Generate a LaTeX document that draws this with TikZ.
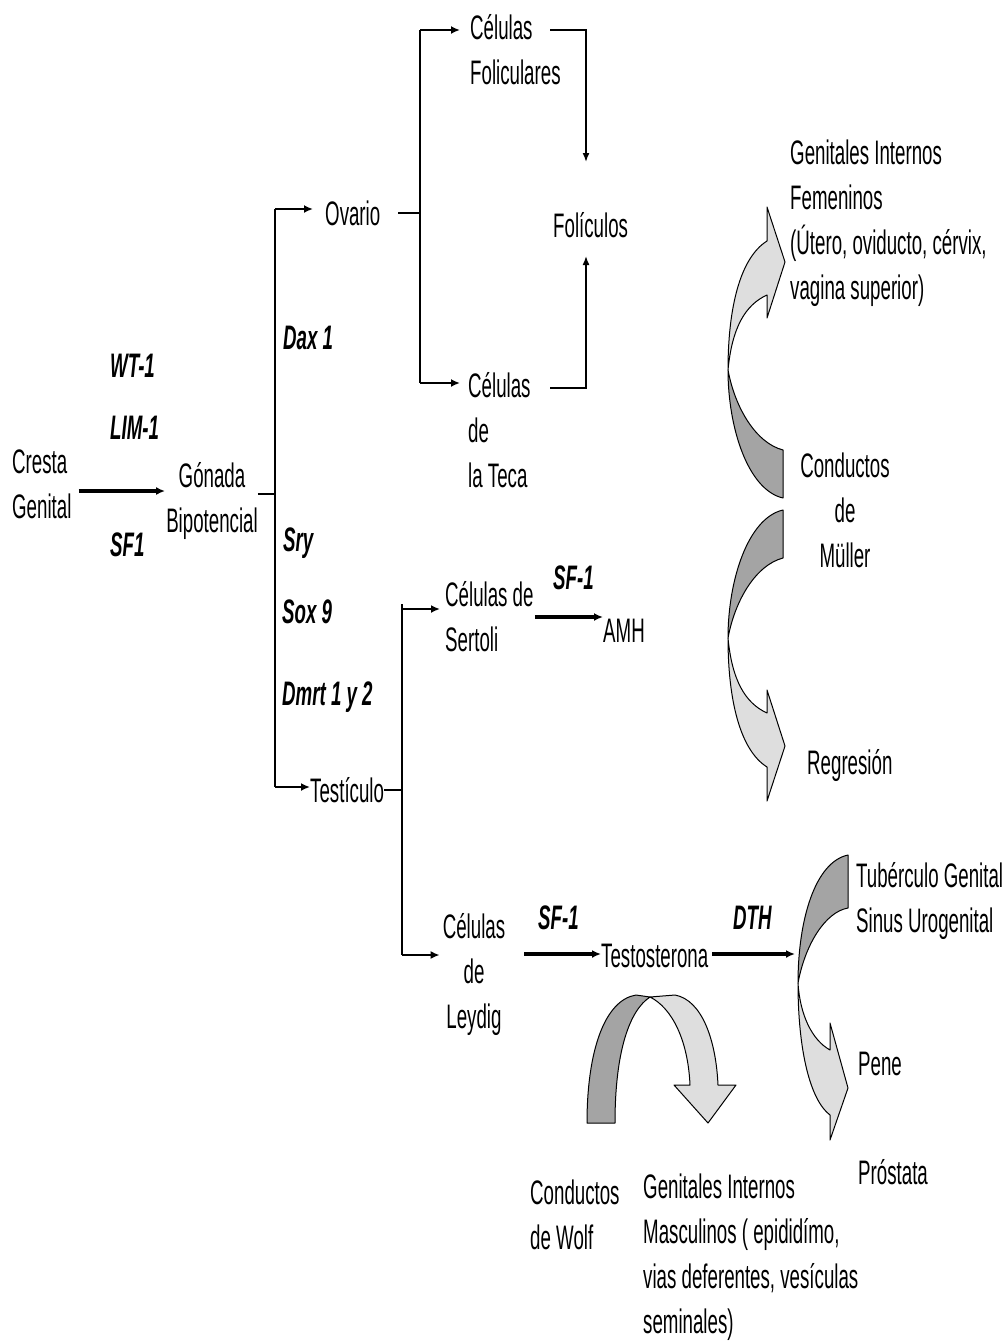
\documentclass[tikz,border=0pt]{standalone}
\usepackage{fontspec}
\setmainfont{Liberation Sans}[FakeStretch=0.55]
\usetikzlibrary{arrows.meta}
\definecolor{darkband}{HTML}{A4A4A4}
\definecolor{lightband}{HTML}{DEDEDE}
\begin{document}
\begin{tikzpicture}[x=1pt,y=-1pt,
  txt/.style={inner sep=0pt, font=\fontsize{34}{45}\selectfont, align=left, anchor=west},
  ctxt/.style={txt, align=center, anchor=center},
  gene/.style={inner sep=0pt, font=\fontsize{34}{45}\selectfont\bfseries\itshape, anchor=west},
  ln/.style={line width=1.6pt},
  arr/.style={line width=2.6pt, -{Latex[length=9pt,width=8pt]}},
  thk/.style={line width=3.2pt, -{Latex[length=9pt,width=8pt]}},
  thn/.style={line width=1.6pt, -{Latex[length=9pt,width=7pt]}},
  darkpart/.style={fill=darkband, draw=black, line width=1pt, line join=round},
  lightpart/.style={fill=lightband, draw=black, line width=1pt, line join=round}
]
\useasboundingbox (0,0) rectangle (1006,1344);
\fill[white] (0,0) rectangle (1006,1344);

% ---------- text nodes ----------
\node[txt] (cresta) at (12,487) {\strut Cresta\\\strut Genital};
\node[ctxt] (gonada) at (212,501) {\strut Gónada\\\strut Bipotencial};
\node[gene] (wt) at (110,366) {WT-1};
\node[gene] (lim) at (110,428) {LIM-1};
\node[gene] (sf) at (110,545) {SF1};
\node[txt] (ovario) at (325,216) {\strut Ovario};
\node[gene] (dax) at (283,338) {Dax 1};
\node[gene] (sry) at (283,543) {Sry};
\node[gene] (sox) at (282,612) {Sox 9};
\node[gene] (dmrt) at (282,697) {Dmrt 1 y 2};
\node[txt] (testiculo) at (310,793) {\strut Testículo};
\node[txt] (celfol) at (470,53) {\strut Células\\\strut Foliculares};
\node[txt] (celteca) at (468,433) {\strut Células\\\strut de\\\strut la Teca};
\node[txt] (foliculos) at (553,228) {\strut Folículos};
\node[txt] (sertoli) at (445,620) {\strut Células de\\\strut Sertoli};
\node[gene] (sfa) at (553,578) {SF-1};
\node[txt] (amh) at (603,633) {\strut AMH};
\node[ctxt] (leydig) at (474,974) {\strut Células\\\strut de\\\strut Leydig};
\node[gene] (sfb) at (538,918) {SF-1};
\node[txt] (testo) at (601,958) {\strut Testosterona};
\node[gene] (dth) at (733,918) {DTH};
\node[txt] (genfem) at (790,223) {\strut Genitales Internos\\\strut Femeninos\\\strut (Útero, oviducto, cérvix,\\\strut vagina superior)};
\node[ctxt] (muller) at (845,513) {\strut Conductos\\\strut de\\\strut Müller};
\node[txt] (regresion) at (807,765) {\strut Regresión};
\node[txt] (tuberculo) at (856,901) {\strut Tubérculo Genital\\\strut Sinus Urogenital};
\node[txt] (pene) at (858,1066) {\strut Pene};
\node[txt] (prostata) at (858,1175) {\strut Próstata};
\node[txt] (wolf) at (530,1218) {\strut Conductos\\\strut de Wolf};
\node[txt] (genmasc) at (643,1257) {\strut Genitales Internos\\\strut Masculinos ( epididímo,\\\strut vias deferentes, vesículas\\\strut seminales)};

% ---------- junction coordinates ----------
\coordinate (g1) at (276,494);
\coordinate (vtop) at (275,209);
\coordinate (vbot) at (275,787);
\coordinate (t1) at (402,790);
\coordinate (stop) at (402,604);
\coordinate (sarr) at (402,609);
\coordinate (larr) at (402,955);
\coordinate (oj) at (420,213);
\coordinate (ftop) at (420,30);
\coordinate (fbot) at (420,383);
\coordinate (ff1) at (550,30);
\coordinate (ff2) at (586,30);
\coordinate (ff3) at (586,162);
\coordinate (fb1) at (550,388);
\coordinate (fb2) at (586,388);
\coordinate (fb3) at (586,256);
\coordinate (dthend) at (795,954);

% ---------- connectors ----------
\draw[thk] ([xshift=7pt]cresta.east |- 0,491) -- ([xshift=-1pt]gonada.west |- 0,491);
\draw[ln] (gonada.east |- g1) -- (g1);
\draw[ln] (vtop) -- (vbot);
\draw[arr] (vtop) -- ([xshift=-12pt]ovario.west |- vtop);
\draw[arr] (vbot) -- (testiculo.west |- vbot);
\draw[ln] (testiculo.east |- t1) -- (t1);
\draw[ln] (stop) -- (larr);
\draw[arr] (sarr) -- ([xshift=-5pt]sertoli.west |- sarr);
\draw[arr] (larr) -- ([xshift=-3pt]leydig.west |- larr);
\draw[thk] ([xshift=1pt]sertoli.east |- 0,617) -- (amh.west |- 0,617);
\draw[thk] ([xshift=19pt]leydig.east |- 0,954) -- (testo.west |- 0,954);
\draw[thk] ([xshift=4pt]testo.east |- 0,954) -- (dthend);
\draw[ln] ([xshift=18pt]ovario.east |- oj) -- (oj);
\draw[ln] (ftop) -- (fbot);
\draw[arr] (ftop) -- ([xshift=-10pt]celfol.west |- ftop);
\draw[arr] (fbot) -- ([xshift=-8pt]celteca.west |- fbot);
\draw[thn] (ff1) -- (ff2) -- (ff3);
\draw[thn] (fb1) -- (fb2) -- (fb3);

% ---------- curved block arrows ----------
% Müller upward
\draw[darkpart] (783,498) .. controls (748,490) and (728,428) .. (728,370)
  .. controls (735,408) and (756,443) .. (783,450) -- cycle;
\draw[lightpart] (728,370) .. controls (728,308) and (740,258) .. (767,241)
  -- (767,207) -- (785,262) -- (767,318) -- (767,295)
  .. controls (745,305) and (732,328) .. (728,370) -- cycle;
% Müller downward
\draw[darkpart] (783,510) .. controls (748,518) and (728,580) .. (728,638)
  .. controls (735,600) and (756,565) .. (783,558) -- cycle;
\draw[lightpart] (728,638) .. controls (728,700) and (740,750) .. (767,767)
  -- (767,801) -- (785,746) -- (767,690) -- (767,713)
  .. controls (745,703) and (732,680) .. (728,638) -- cycle;
% DTH arrow
\draw[darkpart] (848,855) .. controls (815,862) and (798,920) .. (798,983)
  .. controls (805,945) and (825,912) .. (848,908) -- cycle;
\draw[lightpart] (798,983) .. controls (798,1050) and (810,1100) .. (830,1115)
  -- (830,1140) -- (848,1088) -- (830,1023) -- (830,1050)
  .. controls (812,1040) and (800,1015) .. (798,983) -- cycle;
% Wolf arch
\draw[darkpart] (587,1123) -- (615,1123) .. controls (615,1050) and (630,1010) .. (650,997)
  -- (636,995) .. controls (605,1000) and (587,1050) .. (587,1123) -- cycle;
\draw[lightpart] (650,997) -- (675,995) .. controls (702,1000) and (716,1040) .. (718,1085)
  -- (736,1085) -- (708,1123) -- (674,1085) -- (690,1085)
  .. controls (688,1040) and (672,1008) .. (650,997) -- cycle;
\end{tikzpicture}
\end{document}
